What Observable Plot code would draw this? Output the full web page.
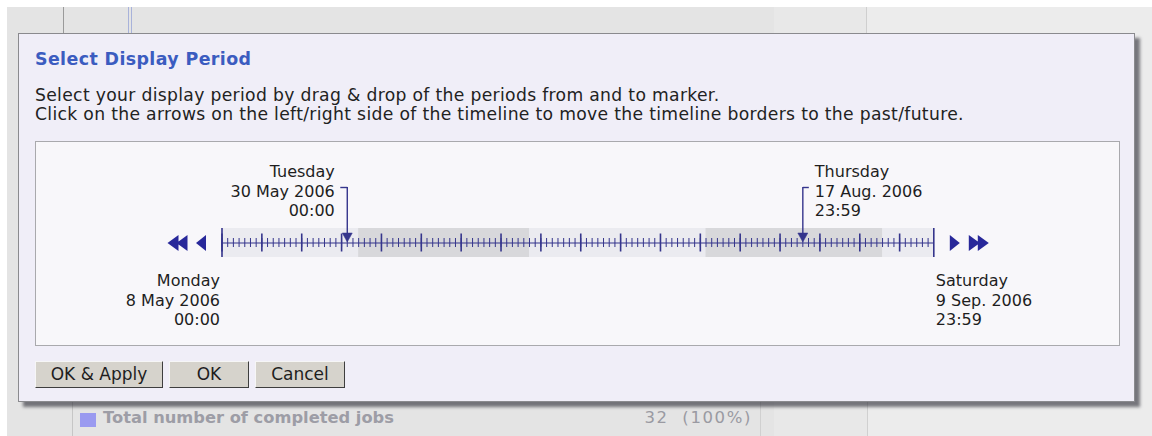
<!DOCTYPE html>
<html>
<head>
<meta charset="utf-8">
<script src="https://cdn.jsdelivr.net/npm/d3@7"></script>
<script src="https://cdn.jsdelivr.net/npm/@observablehq/plot@0.6"></script>
<style>
  html, body { margin:0; padding:0; }
  body { width:1152px; height:436px; position:relative; overflow:hidden; background:#ffffff; font-family:"DejaVu Sans", Verdana, sans-serif; }
  .abs { position:absolute; }
  .vline { position:absolute; width:1px; }
  #dialog { position:absolute; left:18px; top:33px; width:1117px; height:369px; box-sizing:border-box;
            background:#f0eef8; border:1px solid #8a8a8e; box-shadow:5px 5px 3px rgba(40,40,50,0.6); }
  #title { position:absolute; left:35px; top:49px; font-weight:bold; font-size:17.4px; letter-spacing:0.4px; line-height:20px; color:#3b5cc0; white-space:nowrap; }
  #intro { position:absolute; left:35px; top:86px; font-size:17.2px; letter-spacing:0.32px; line-height:19px; color:#222; white-space:nowrap; }
  #panel { position:absolute; left:35px; top:141px; width:1085px; height:205px; box-sizing:border-box;
           border:1px solid #a9a9ad; background:#f8f7fa; }
  #chart { position:absolute; left:0; top:0; }
  .btn { position:absolute; top:361px; height:27px; box-sizing:border-box; background:#d6d3cc;
         border:1px solid; border-color:#f6f6f6 #3e3e3e #3e3e3e #f6f6f6; font-size:17px; color:#1e1e1e;
         text-align:center; line-height:24px; white-space:nowrap; }
</style>
</head>
<body>
<script>
// ---- data ----
const timelineStart = "2006-05-08T00:00Z";
const timelineEnd = "2006-09-10T00:00Z";           // end of Saturday 9 Sep. 2006 23:59
const shadedFrom = ["2006-06-01T00:00Z", "2006-08-01T00:00Z"];
const shadedTo   = ["2006-07-01T00:00Z", "2006-09-01T00:00Z"];
const markerDates  = ["2006-05-30T00:00Z", "2006-08-18T00:00Z"]; // from / to markers
const markerLabels = ["Tuesday\n30 May 2006\n00:00", "Thursday\n17 Aug. 2006\n23:59"];
const borderLabels = ["Monday\n8 May 2006\n00:00", "Saturday\n9 Sep. 2006\n23:59"];
const titleText = "Select Display Period";
const introLines = [
  "Select your display period by drag & drop of the periods from and to marker.",
  "Click on the arrows on the left/right side of the timeline to move the timeline borders to the past/future."
];
const buttonLabels = ["OK & Apply", "OK", "Cancel"];
const backgroundRowLabel = "Total number of completed jobs";
const backgroundRowValue = "32  (100%)";
</script>

<!-- background page behind the dialog -->
<div class="abs" style="left:7px;top:7px;width:1145px;height:429px;background:#e4e4e4"></div>
<div class="abs" style="left:774px;top:7px;width:93px;height:429px;background:#e8e8e8"></div>
<div class="abs" style="left:867px;top:7px;width:285px;height:429px;background:#ececec"></div>
<div class="vline" style="left:63px;top:7px;height:27px;background:#9a9a9a"></div>
<div class="vline" style="left:128px;top:7px;height:27px;background:#a8b2da"></div>
<div class="vline" style="left:131px;top:7px;height:27px;background:#a8b2da"></div>
<div class="vline" style="left:866px;top:7px;height:27px;background:#cfcfcf"></div>
<div class="vline" style="left:72px;top:402px;height:34px;background:#c6c6c6"></div>
<div class="vline" style="left:760px;top:402px;height:34px;background:#d0d0d0"></div>
<div class="vline" style="left:867px;top:402px;height:34px;background:#d0d0d0"></div>
<div class="abs" style="left:80px;top:413px;width:16px;height:14px;background:#9a9af0"></div>
<div class="abs" id="rowLabel" style="left:103px;top:409px;font-size:16.3px;line-height:18px;font-weight:bold;color:#9d9da6;white-space:nowrap"></div>
<div class="abs" id="rowValue" style="right:400px;top:409px;font-size:16.5px;line-height:18px;color:#9a9aa2;white-space:pre;letter-spacing:1.6px"></div>

<div id="dialog"></div>
<div id="title"></div>
<div id="intro"></div>
<div id="panel"><div id="chart"></div></div>
<div class="btn" id="b0" style="left:35px;width:128px"></div>
<div class="btn" id="b1" style="left:169px;width:80px"></div>
<div class="btn" id="b2" style="left:255px;width:90px"></div>

<script>
document.getElementById("rowLabel").textContent = backgroundRowLabel;
document.getElementById("rowValue").textContent = backgroundRowValue;
document.getElementById("title").textContent = titleText;
document.getElementById("intro").innerHTML = introLines.map(s => s.replace(/&/g, "&amp;")).join("<br>");
buttonLabels.forEach((t, i) => document.getElementById("b" + i).textContent = t);

const navy = "#35358c";
const arrowBlue = "#28289a";
const start = new Date(timelineStart), end = new Date(timelineEnd);
const markers = markerDates.map((d, i) => ({date: new Date(d), label: markerLabels[i]}));
const shaded = shadedFrom.map((d, i) => ({x1: new Date(d), x2: new Date(shadedTo[i])}));
const days = d3.utcDay.range(start, end);
const weeks = d3.utcMonday.range(start, end);

// custom symbols (pixel paths around the anchor point)
const sym = (fn) => ({draw(ctx) { fn(ctx); }});
const triLeft = sym(c => { c.moveTo(5,-8); c.lineTo(-5,0); c.lineTo(5,8); c.closePath(); });
const triRight = sym(c => { c.moveTo(-5,-8); c.lineTo(5,0); c.lineTo(-5,8); c.closePath(); });
const dblLeft = sym(c => { c.moveTo(1,-8); c.lineTo(-10,0); c.lineTo(1,8); c.closePath();
                           c.moveTo(10,-8); c.lineTo(-1,0); c.lineTo(10,8); c.closePath(); });
const dblRight = sym(c => { c.moveTo(-1,-8); c.lineTo(10,0); c.lineTo(-1,8); c.closePath();
                            c.moveTo(-10,-8); c.lineTo(1,0); c.lineTo(-10,8); c.closePath(); });
const arrowHead = sym(c => { c.moveTo(-5,-9); c.lineTo(5,-9); c.lineTo(0,0); c.closePath(); });
const stubLeft = sym(c => { c.moveTo(-7,0); c.lineTo(0,0); });
const stubRight = sym(c => { c.moveTo(0,0); c.lineTo(6,0); });

const chart = Plot.plot({
  width: 1083, height: 203,
  marginLeft: 185.5, marginRight: 185.7, marginTop: 86, marginBottom: 88,
  x: {type: "utc", domain: [start, end], axis: null},
  y: {domain: [-14.5, 14.5], axis: null},
  style: {background: "transparent", fontFamily: "DejaVu Sans, Verdana, sans-serif", fontSize: "16px", overflow: "visible", color: "#1e1e1e"},
  marks: [
    Plot.rect([0], {x1: () => start, x2: () => end, y1: -14.5, y2: 14.5, fill: "#ebebf0"}),
    Plot.rect(shaded, {x1: "x1", x2: "x2", y1: -14.5, y2: 14.5, fill: "#d8d8db"}),
    Plot.ruleY([0], {x1: () => start, x2: () => end, stroke: navy, strokeWidth: 1.2}),
    Plot.ruleX(days, {y1: -4.5, y2: 4.5, stroke: navy, strokeWidth: 1}),
    Plot.ruleX(weeks, {y1: -9, y2: 9, stroke: navy, strokeWidth: 1.6}),
    Plot.ruleX([start, end], {y1: -14.5, y2: 14.5, stroke: navy, strokeWidth: 1.6}),
    // markers
    Plot.ruleX(markers, {x: "date", y1: 55.5, y2: 9, stroke: navy, strokeWidth: 1.4}),
    Plot.dot(markers, {x: "date", y: 1, symbol: arrowHead, fill: navy, stroke: navy, strokeWidth: 0.5}),
    Plot.dot(markers.slice(0, 1), {x: "date", y: 55.5, symbol: stubLeft, stroke: navy, strokeWidth: 1.4, fill: "none"}),
    Plot.dot(markers.slice(1), {x: "date", y: 55.5, symbol: stubRight, stroke: navy, strokeWidth: 1.4, fill: "none"}),
    Plot.text(markers.slice(0, 1), {x: "date", y: 79.5, text: "label", textAnchor: "end", lineAnchor: "top", lineHeight: 1.22, dx: -12.5, fill: "#1e1e1e"}),
    Plot.text(markers.slice(1), {x: "date", y: 79.5, text: "label", textAnchor: "start", lineAnchor: "top", lineHeight: 1.22, dx: 12, fill: "#1e1e1e"}),
    // timeline borders
    Plot.text([start], {x: d => d, y: -29.5, text: () => borderLabels[0], textAnchor: "end", lineAnchor: "top", lineHeight: 1.22, dx: -2, fill: "#1e1e1e"}),
    Plot.text([end], {x: d => d, y: -29.5, text: () => borderLabels[1], textAnchor: "start", lineAnchor: "top", lineHeight: 1.22, dx: 2, fill: "#1e1e1e"}),
    // move arrows
    Plot.dot([start], {x: d => d, y: 0, dx: -44.5, symbol: dblLeft, fill: arrowBlue, stroke: "none"}),
    Plot.dot([start], {x: d => d, y: 0, dx: -21, symbol: triLeft, fill: arrowBlue, stroke: "none"}),
    Plot.dot([end], {x: d => d, y: 0, dx: 21, symbol: triRight, fill: arrowBlue, stroke: "none"}),
    Plot.dot([end], {x: d => d, y: 0, dx: 45, symbol: dblRight, fill: arrowBlue, stroke: "none"})
  ]
});
document.getElementById("chart").appendChild(chart);
</script>
</body>
</html>
